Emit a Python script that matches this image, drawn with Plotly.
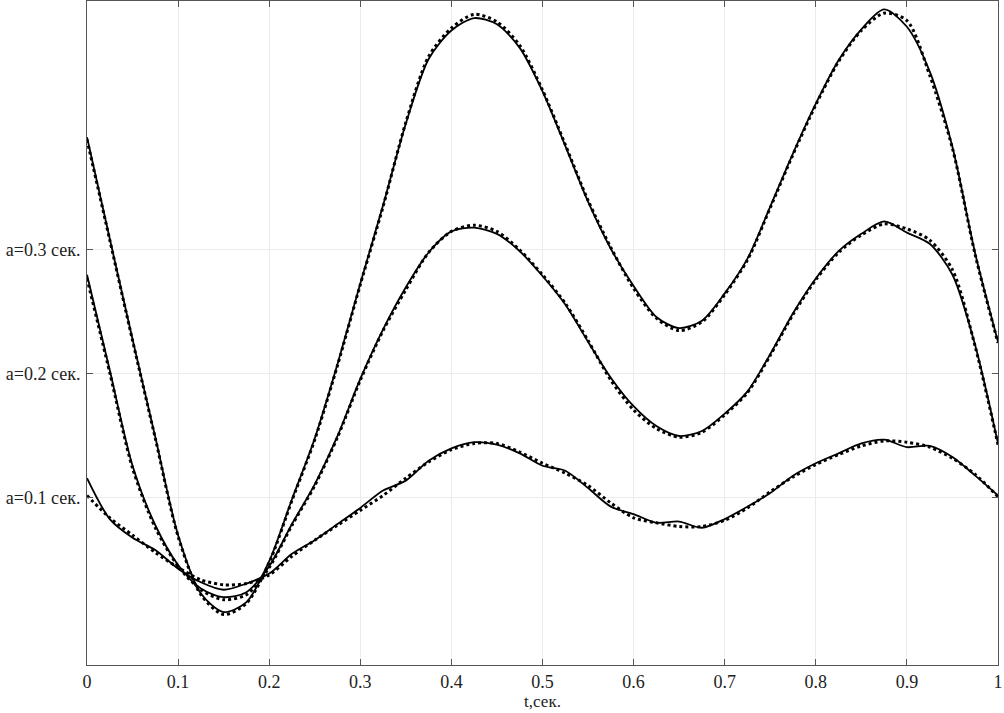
import plotly.graph_objects as go

# time grid, seconds
t = [round(i * 0.025, 3) for i in range(41)]

# model (dotted) curves
model_a03 = [0.389, 0.308, 0.227, 0.148, 0.069, 0.022, 0.006, 0.015, 0.048, 0.098,
             0.147, 0.207, 0.272, 0.335, 0.403, 0.456, 0.479, 0.490, 0.484, 0.465,
             0.429, 0.385, 0.340, 0.302, 0.269, 0.245, 0.235, 0.242, 0.264, 0.292,
             0.334, 0.377, 0.417, 0.452, 0.477, 0.491, 0.485, 0.441, 0.382, 0.296,
             0.225]
model_a02 = [0.277, 0.201, 0.124, 0.076, 0.045, 0.026, 0.018, 0.022, 0.044, 0.078,
             0.110, 0.149, 0.195, 0.235, 0.268, 0.298, 0.315, 0.320, 0.315, 0.300,
             0.280, 0.257, 0.227, 0.195, 0.171, 0.156, 0.149, 0.153, 0.167, 0.185,
             0.215, 0.248, 0.276, 0.298, 0.312, 0.321, 0.317, 0.308, 0.284, 0.222,
             0.143]
model_a01 = [0.102, 0.084, 0.070, 0.056, 0.044, 0.034, 0.030, 0.031, 0.038, 0.053,
             0.066, 0.078, 0.090, 0.102, 0.116, 0.129, 0.139, 0.144, 0.144, 0.137,
             0.128, 0.120, 0.110, 0.096, 0.084, 0.080, 0.077, 0.077, 0.082, 0.092,
             0.105, 0.117, 0.127, 0.135, 0.142, 0.146, 0.145, 0.141, 0.132, 0.119,
             0.101]

# measured (solid) curves
meas_a03 = [0.391, 0.309, 0.228, 0.149, 0.070, 0.023, 0.008, 0.016, 0.049, 0.099,
            0.148, 0.208, 0.273, 0.336, 0.402, 0.454, 0.477, 0.487, 0.482, 0.463,
            0.428, 0.384, 0.339, 0.301, 0.271, 0.246, 0.237, 0.243, 0.265, 0.293,
            0.335, 0.378, 0.418, 0.453, 0.478, 0.494, 0.480, 0.444, 0.383, 0.297,
            0.226]
meas_a02 = [0.280, 0.203, 0.126, 0.078, 0.046, 0.027, 0.020, 0.024, 0.045, 0.079,
            0.111, 0.150, 0.196, 0.236, 0.270, 0.298, 0.315, 0.318, 0.313, 0.299,
            0.279, 0.256, 0.226, 0.197, 0.174, 0.158, 0.150, 0.154, 0.168, 0.186,
            0.216, 0.249, 0.277, 0.299, 0.313, 0.323, 0.314, 0.305, 0.280, 0.223,
            0.144]
meas_a01 = [0.116, 0.083, 0.068, 0.058, 0.043, 0.032, 0.026, 0.031, 0.039, 0.055,
            0.066, 0.079, 0.092, 0.106, 0.114, 0.130, 0.140, 0.145, 0.143, 0.136,
            0.126, 0.122, 0.108, 0.093, 0.087, 0.080, 0.081, 0.076, 0.083, 0.093,
            0.104, 0.118, 0.128, 0.136, 0.144, 0.147, 0.141, 0.142, 0.133, 0.118,
            0.102]

x_ticks = [0, 0.1, 0.2, 0.3, 0.4, 0.5, 0.6, 0.7, 0.8, 0.9, 1]
x_tick_text = ["0", "0.1", "0.2", "0.3", "0.4", "0.5", "0.6", "0.7", "0.8", "0.9", "1"]
y_ticks = [0.1, 0.2, 0.3]
y_tick_text = ["a=0.1 сек.", "a=0.2 сек.", "a=0.3 сек."]

fig = go.Figure()
for ys in (model_a03, model_a02, model_a01):
    fig.add_trace(go.Scatter(x=t, y=ys, mode="lines",
                             line=dict(color="black", width=3, dash="dot", shape="spline", smoothing=0.8),
                             showlegend=False, hoverinfo="skip"))
for ys in (meas_a03, meas_a02, meas_a01):
    fig.add_trace(go.Scatter(x=t, y=ys, mode="lines",
                             line=dict(color="black", width=1.8, shape="spline", smoothing=0.8),
                             showlegend=False, hoverinfo="skip"))

axis_common = dict(showline=True, linecolor="#555555", linewidth=1, mirror="ticks",
                   ticks="inside", ticklen=6, tickcolor="#555555",
                   showgrid=True, gridcolor="#ebebeb", gridwidth=1, zeroline=False,
                   automargin=False,
                   tickfont=dict(family="Liberation Serif", size=18, color="#222222"))

fig.update_layout(
    width=1004, height=713,
    margin=dict(l=87, r=6, t=1, b=48),
    paper_bgcolor="white", plot_bgcolor="white",
    xaxis=dict(range=[0, 1], tickvals=x_ticks, ticktext=x_tick_text,
               title=dict(text="t,сек.", font=dict(family="Liberation Serif", size=17, color="#222222"),
                          standoff=0),
               **axis_common),
    yaxis=dict(range=[-0.0347, 0.5008], tickvals=y_ticks, ticktext=y_tick_text, ticklabelstandoff=2,
               **axis_common),
)

fig.write_html("out.html", config={"displayModeBar": False},
               post_script="document.body.style.margin='0';document.body.style.overflow='hidden';")
